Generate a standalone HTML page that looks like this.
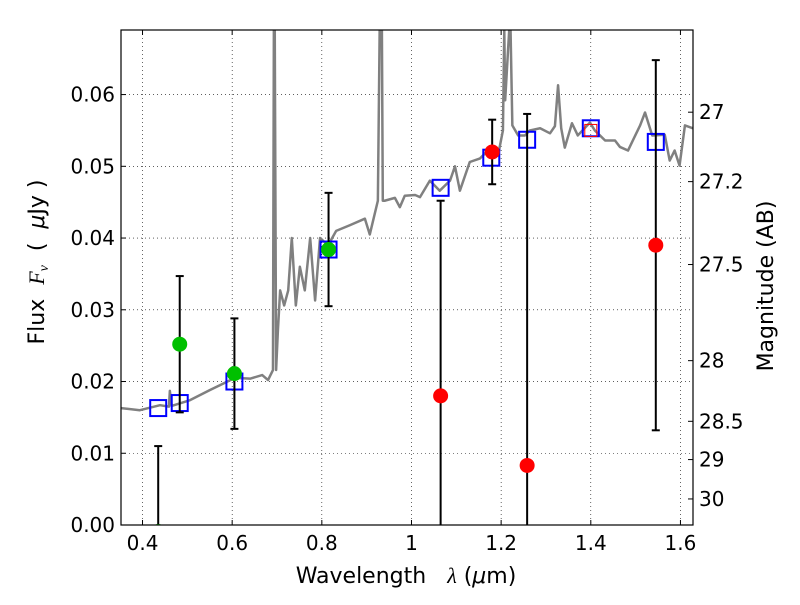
<!DOCTYPE html>
<html><head><meta charset="utf-8"><style>
body{margin:0;background:#fff}
svg text{font-family:"DejaVu Sans","Liberation Sans",sans-serif;fill:#000}
</style></head><body>
<svg id="c" width="800" height="600"></svg>
<script>
const specLam=[0.352,0.394,0.439,0.459,0.461,0.465,0.506,0.550,0.573,0.606,0.640,0.667,0.680,0.691,0.693,0.695,0.698,0.702,0.707,0.716,0.725,0.733,0.742,0.751,0.762,0.774,0.785,0.796,0.814,0.832,0.863,0.896,0.907,0.925,0.929,0.931,0.934,0.936,0.940,0.963,0.974,0.985,1.008,1.019,1.041,1.063,1.086,1.097,1.108,1.130,1.153,1.175,1.193,1.204,1.207,1.209,1.218,1.221,1.225,1.238,1.253,1.264,1.287,1.309,1.320,1.327,1.334,1.342,1.358,1.371,1.398,1.409,1.432,1.454,1.465,1.483,1.510,1.521,1.537,1.565,1.576,1.587,1.598,1.610,1.628];
const specFlux=[0.0163,0.016,0.0167,0.0165,0.0187,0.0166,0.0174,0.0188,0.0195,0.0205,0.0204,0.0209,0.0202,0.0216,0.069,0.069,0.0216,0.0271,0.0327,0.0306,0.0327,0.040,0.0306,0.036,0.0327,0.040,0.0313,0.040,0.039,0.041,0.0418,0.0427,0.0405,0.0452,0.069,0.069,0.069,0.0452,0.0452,0.0456,0.0443,0.0459,0.046,0.0457,0.048,0.0466,0.048,0.050,0.0466,0.0506,0.0511,0.0525,0.0515,0.055,0.069,0.0592,0.069,0.069,0.0557,0.0543,0.0543,0.055,0.0553,0.0546,0.0556,0.0613,0.0553,0.0526,0.056,0.0543,0.0561,0.055,0.0536,0.0536,0.0527,0.0522,0.0557,0.0575,0.0543,0.0544,0.0508,0.0522,0.0501,0.0557,0.0553];
const obsLam=[0.435,0.483,0.605,0.815,1.065,1.180,1.258,1.545];
const obsFlux=[-0.0009,0.0252,0.0211,0.0384,0.018,0.052,0.0083,0.039];
const obsErr=[0.0119,0.0095,0.0077,0.0079,0.0272,0.0045,0.049,0.0258];
const obsDetected=[1,1,1,1,0,0,0,0];
const modLam=[0.435,0.483,0.605,0.815,1.065,1.178,1.258,1.400,1.545];
const modFlux=[0.0163,0.0170,0.0200,0.0384,0.047,0.0512,0.0537,0.0553,0.0534];
const xTicks=[0.4,0.6,0.8,1.0,1.2,1.4,1.6];
const xTickLabels=["0.4","0.6","0.8","1","1.2","1.4","1.6"];
const yTicks=[0,0.01,0.02,0.03,0.04,0.05,0.06];
const magTicks=[27,27.2,27.5,28,28.5,29,30];
const magLabels=["27","27.2","27.5","28","28.5","29","30"];

const L=121,R=693,T=30,B=525,xmin=0.352,xmax=1.628,ymin=0,ymax=0.069;
const X=v=>L+(v-xmin)/(xmax-xmin)*(R-L);
const Y=v=>B-(v-ymin)/(ymax-ymin)*(B-T);
const NS="http://www.w3.org/2000/svg",svg=document.getElementById('c');
function mk(t,a,p){const e=document.createElementNS(NS,t);for(const k in a)e.setAttribute(k,a[k]);(p||svg).appendChild(e);return e;}
const defs=mk('defs',{});const cp=mk('clipPath',{id:'cl'},defs);mk('rect',{x:L,y:T,width:R-L,height:B-T},cp);
xTicks.forEach(v=>{const g=mk('line',{x1:X(v),x2:X(v),y1:T,y2:B,stroke:'#000','stroke-width':0.6,'stroke-dasharray':'1,3'});
});
yTicks.forEach(v=>{const g=mk('line',{x1:L,x2:R,y1:Y(v),y2:Y(v),stroke:'#000','stroke-width':0.6,'stroke-dasharray':'1,3'});
});
const plot=mk('g',{'clip-path':'url(#cl)'});
const sp=mk('polyline',{points:specLam.map((l,i)=>X(l)+','+Y(specFlux[i])).join(' '),fill:'none',stroke:'#808080','stroke-width':2.5,'stroke-linejoin':'round'},plot);

modLam.forEach((l,i)=>{const r=mk('rect',{x:X(l)-8,y:Y(modFlux[i])-8,width:16,height:16,fill:'none',stroke:'#0000ff','stroke-width':2},plot);
});
const rs=mk('rect',{x:X(1.400)-6,y:Y(0.055)-6,width:12,height:12,fill:'none',stroke:'#ff0000','stroke-width':1},plot);

obsLam.forEach((l,i)=>{const x=X(l),y1=Y(obsFlux[i]+obsErr[i]),y0=Y(Math.max(0,obsFlux[i]-obsErr[i]));
const e=mk('line',{x1:x,x2:x,y1:y1,y2:y0,stroke:'#000','stroke-width':2},plot);

mk('line',{x1:x-4,x2:x+4,y1:y1,y2:y1,stroke:'#000','stroke-width':2},plot);
if(obsFlux[i]-obsErr[i]>0)mk('line',{x1:x-4,x2:x+4,y1:y0,y2:y0,stroke:'#000','stroke-width':2},plot);
const c=mk('circle',{cx:x,cy:Y(obsFlux[i]),r:7.5,fill:obsDetected[i]?'#00c000':'#ff0000'},plot);
});
const fr=mk('rect',{x:L,y:T,width:R-L,height:B-T,fill:'none',stroke:'#000','stroke-width':1.2});

xTicks.forEach((v,i)=>{mk('line',{x1:X(v),x2:X(v),y1:B,y2:B-5,stroke:'#000'});mk('line',{x1:X(v),x2:X(v),y1:T,y2:T+5,stroke:'#000'});
const t=mk('text',{x:X(v),y:B+25,'font-size':20,'text-anchor':'middle'});t.textContent=xTickLabels[i];
});
yTicks.forEach(v=>{mk('line',{x1:L,x2:L+5,y1:Y(v),y2:Y(v),stroke:'#000'});
const t=mk('text',{x:L-6,y:Y(v)+7,'font-size':20,'text-anchor':'end'});t.textContent=v.toFixed(2);
});
magTicks.forEach((m,i)=>{const y=Y(Math.pow(10,(23.9-m)/2.5));mk('line',{x1:R,x2:R-5,y1:y,y2:y,stroke:'#000'});
const t=mk('text',{x:R+6,y:y+7,'font-size':20});t.textContent=magLabels[i];
});
</script>
<svg width="800" height="600" style="position:absolute;left:0;top:0">
<text x="406" y="583" font-size="22" text-anchor="middle" xml:space="preserve">Wavelength   <tspan font-family="Liberation Serif" font-style="italic">λ</tspan> (<tspan font-style="italic">μ</tspan>m)</text>
<text transform="translate(44,262) rotate(-90)" font-size="22" text-anchor="middle" xml:space="preserve">Flux  <tspan font-family="Liberation Serif" font-style="italic">F<tspan font-size="14" dy="4">ν</tspan></tspan><tspan dy="-4">  (  </tspan><tspan font-style="italic">μ</tspan>Jy )</text>
<text transform="translate(773,286) rotate(-90)" font-size="22" text-anchor="middle">Magnitude (AB)</text>
</svg>
</body></html>
